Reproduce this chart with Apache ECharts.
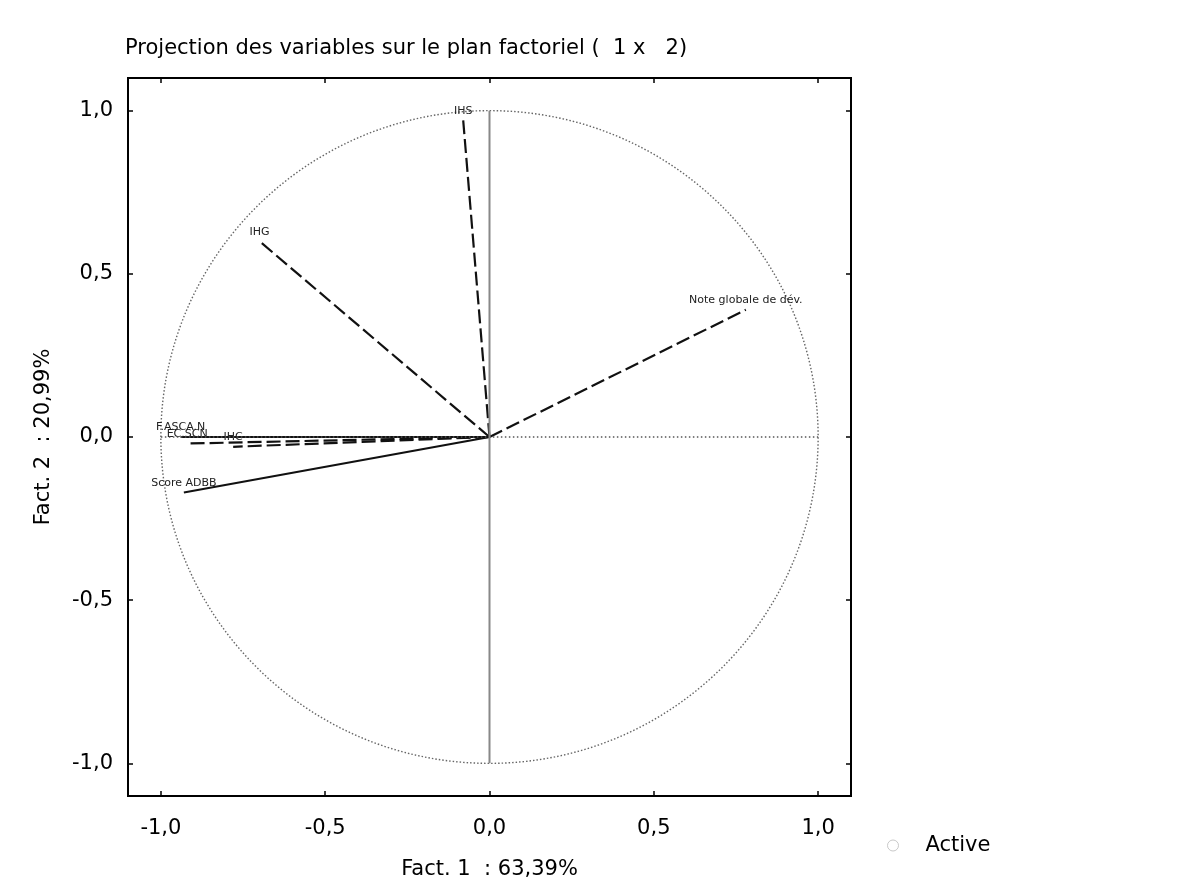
<!DOCTYPE html>
<html>
<head>
<meta charset="utf-8">
<script src="https://cdn.jsdelivr.net/npm/echarts@6/dist/echarts.min.js"></script>
<style>html,body{margin:0;padding:0;background:#fff;}#c{width:1200px;height:888px;}</style>
</head>
<body>
<div id="c"></div>
<script>
// Data
const varNames = ['IHS', 'IHG', 'Note globale de dév.', 'F.ASCA.N', 'EC.SCN', 'IHC', 'Score ADBB'];
const fact1    = [-0.08, -0.70, 0.78, -0.94, -0.92, -0.78, -0.93];
const fact2    = [0.97, 0.60, 0.39, 0.00, -0.02, -0.03, -0.17];
const lineKind = ['dashed', 'dashed', 'dashed', 'solid', 'dashed', 'dashed', 'solid'];
const tickValues = [-1, -0.5, 0, 0.5, 1];
const axisMin = -1.1, axisMax = 1.1;
const circleRadius = [1];

const FONT = 'DejaVu Sans, Liberation Sans, Arial, sans-serif';
const fmt = v => (Math.abs(v) < 1e-9 ? 0 : v).toFixed(1).replace('.', ',');

const vectorData = varNames.map((n, i) => [fact1[i], fact2[i], lineKind[i] === 'dashed' ? 1 : 0, n]);

const chart = echarts.init(document.getElementById('c'));
const baseAxis = {
  type: 'value', min: axisMin, max: axisMax,
  axisLine: { show: false, onZero: false },
  splitLine: { show: false },
  axisTick: { show: true, inside: true, length: 5, lineStyle: { color: '#000', width: 1.5 }, customValues: tickValues },
};
chart.setOption({
  animation: false,
  backgroundColor: '#fff',
  title: {
    text: 'Projection des variables sur le plan factoriel (  1 x   2)',
    left: 120, top: 33,
    textStyle: { fontFamily: FONT, fontSize: 21, fontWeight: 'normal', color: '#000' }
  },
  legend: {
    data: [{ name: 'Active', icon: 'circle' }],
    left: 882, top: 830,
    itemWidth: 11, itemHeight: 11,
    itemStyle: { color: '#fff', borderColor: '#bbb', borderWidth: 1 },
    textStyle: { fontFamily: FONT, fontSize: 21, color: '#000', padding: [0, 0, 0, 22] }
  },
  grid: { left: 128, right: 349, top: 78, bottom: 92, show: true, borderColor: '#000', borderWidth: 2 },
  xAxis: [
    Object.assign({}, baseAxis, {
      position: 'bottom',
      name: 'Fact. 1  : 63,39%', nameLocation: 'middle', nameGap: 63,
      nameTextStyle: { fontFamily: FONT, fontSize: 21, color: '#000' },
      axisLabel: { customValues: tickValues, formatter: fmt, margin: 22, fontFamily: FONT, fontSize: 21, color: '#000' }
    }),
    Object.assign({}, baseAxis, { position: 'top', axisLabel: { show: false } })
  ],
  yAxis: [
    Object.assign({}, baseAxis, {
      position: 'left',
      name: 'Fact. 2  : 20,99%', nameLocation: 'middle', nameGap: 74, nameRotate: 90,
      nameTextStyle: { fontFamily: FONT, fontSize: 21, color: '#000' },
      axisLabel: { customValues: tickValues, formatter: fmt, margin: 15, fontFamily: FONT, fontSize: 21, color: '#000' }
    }),
    Object.assign({}, baseAxis, { position: 'right', axisLabel: { show: false } })
  ],
  series: [
    {
      type: 'custom', name: 'circle', silent: true,
      data: circleRadius.map(r => [0, 0, r]),
      renderItem: function (params, api) {
        const c = api.coord([0, 0]);
        const r = api.size([api.value(2), api.value(2)]);
        return {
          type: 'ellipse',
          shape: { cx: c[0], cy: c[1], rx: r[0], ry: r[1] },
          style: { fill: null, stroke: '#666', lineWidth: 1.4, lineDash: [1.5, 2] }
        };
      }
    },
    {
      type: 'line', name: 'h0', silent: true, symbol: 'none',
      data: [[-1, 0], [1, 0]],
      lineStyle: { color: '#555', width: 1.4, type: [1.5, 2.5] }
    },
    {
      type: 'line', name: 'v0', silent: true, symbol: 'none',
      data: [[0, -1], [0, 1]],
      lineStyle: { color: '#888', width: 2 }
    },
    {
      type: 'custom', name: 'vectors', silent: true,
      data: vectorData,
      renderItem: function (params, api) {
        const o = api.coord([0, 0]);
        const p = api.coord([api.value(0), api.value(1)]);
        const dashed = api.value(2) === 1;
        const name = vectorData[params.dataIndex][3];
        return {
          type: 'group',
          children: [
            {
              type: 'line',
              shape: { x1: o[0], y1: o[1], x2: p[0], y2: p[1] },
              style: { stroke: '#111', lineWidth: 2.2, lineDash: dashed ? [14, 5] : null }
            },
            {
              type: 'text',
              style: {
                x: p[0], y: p[1] - 4, text: name,
                textAlign: 'center', textVerticalAlign: 'bottom',
                fontFamily: FONT, fontSize: 11, fill: '#222'
              }
            }
          ]
        };
      }
    },
    {
      type: 'scatter', name: 'Active', data: [],
      itemStyle: { color: '#fff', borderColor: '#bbb', borderWidth: 1 }
    }
  ]
});
</script>
</body>
</html>
